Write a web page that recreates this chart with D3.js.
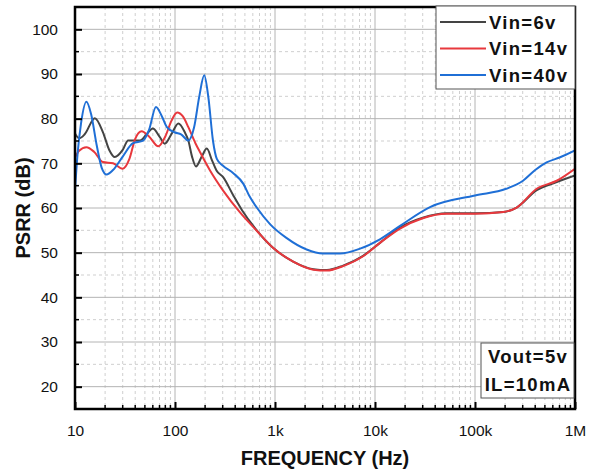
<!DOCTYPE html>
<html lang="en">
<head>
<meta charset="UTF-8">
<title>PSRR</title>
<style>
  body { margin: 0; background: #fff; }
  svg text { font-family: "Liberation Sans", Arial, sans-serif; fill: #111; }
  .tick-label { font-size: 15.5px; }
  .title { font-size: 20px; font-weight: bold; }
  .box-text { font-size: 18.5px; font-weight: bold; letter-spacing: 1.3px; }
</style>
</head>
<body>
<svg id="chart"></svg>
<script src="https://d3js.org/d3.v7.min.js"></script>
<script>
// ---- data ----
var yTicks = [20, 30, 40, 50, 60, 70, 80, 90, 100];
var xTicks = [10, 100, 1000, 10000, 100000, 1000000];
var xTickLabels = ["10", "100", "1k", "10k", "100k", "1M"];

var freq6 = [10, 11, 12.5, 15.8, 19, 22, 25, 30, 34, 44.7, 52, 60, 70, 79, 92, 108, 125, 136, 148, 162, 185, 208, 235, 260, 303, 383, 468, 657, 955, 1520, 2420, 3300, 4800, 7600, 11200, 17800, 30000, 52000, 100000, 192000, 261000, 414000, 656000, 1000000];
var psrr6 = [76.7, 75.6, 76.5, 80.1, 77, 73, 71.4, 73, 75.1, 75.1, 76.5, 77.8, 76, 74.4, 76.5, 78.9, 77, 75.1, 71.5, 69.3, 71.5, 73.3, 70.6, 68.4, 66.9, 62.8, 59.5, 55, 51.1, 48, 46.3, 46.1, 47.1, 49.3, 52.2, 55.6, 57.8, 58.8, 58.8, 59.1, 60.1, 64, 65.8, 67.3];

var freq14 = [10, 11, 13, 15.5, 19, 24, 30, 35, 40, 46.4, 55, 68, 80, 92, 105, 120, 136, 160, 178, 224, 303, 447, 657, 955, 1520, 2420, 3300, 4800, 7600, 11200, 17800, 30000, 52000, 100000, 192000, 261000, 414000, 656000, 1000000];
var psrr14 = [71.3, 72.8, 73.6, 72.6, 70.3, 70, 68.8, 71, 75.5, 77.2, 76, 73.8, 76, 79.5, 81.4, 80.5, 78.1, 74.5, 72.5, 68.4, 63.9, 59, 54.9, 51.1, 48, 46.2, 46, 47, 49.2, 52.2, 55.4, 57.7, 58.7, 58.7, 59.1, 60.1, 64.3, 66.1, 68.8];

var freq40 = [10, 10.6, 11.5, 13, 14.5, 16.5, 18.5, 20.7, 24, 30, 38, 48, 55, 64.5, 74, 83, 100, 115, 136, 155, 175, 196, 215, 240, 262, 300, 383, 483, 560, 657, 891, 1300, 2070, 3000, 4470, 7100, 11200, 17800, 35500, 100000, 205000, 302000, 400000, 520000, 700000, 1000000];
var psrr40 = [64, 72, 79, 83.8, 81, 74, 69, 67.5, 68.5, 71.5, 74.5, 75.1, 77.5, 82.6, 80.5, 78.1, 76.9, 76.5, 75.1, 78, 85, 89.7, 85, 75, 71, 69.5, 67.8, 65.4, 62.5, 60.1, 56.4, 53.3, 50.7, 49.8, 49.8, 50.9, 53, 56, 60.2, 62.8, 64.3, 66.1, 68.5, 70.2, 71.3, 72.9];

var seriesNames = ["Vin=6v", "Vin=14v", "Vin=40v"];
var seriesColors = ["#444444", "#e8383d", "#1f6fd6"];
var noteLines = ["Vout=5v", "IL=10mA"];

// ---- layout ----
var svgWidth = 590, svgHeight = 471;
var margin = { top: 7, right: 15, bottom: 62, left: 75 };
var width = svgWidth - margin.left - margin.right;
var height = svgHeight - margin.top - margin.bottom;

var svg = d3.select("#chart").attr("width", svgWidth).attr("height", svgHeight);
var g = svg.append("g").attr("transform", "translate(" + margin.left + "," + margin.top + ")");

var x = d3.scaleLog().domain([10, 1000000]).range([0, width]);
var y = d3.scaleLinear().domain([15, 105]).range([height, 0]);

// minor positions
var xMinor = [];
for (var d = 10; d < 1000000; d *= 10) {
  for (var k = 2; k <= 9; k++) xMinor.push(d * k);
}
var yMinor = [25, 35, 45, 55, 65, 75, 85, 95];

// grid
g.append("g").selectAll("line").data(xMinor).enter().append("line")
  .attr("x1", function(d) { return x(d); }).attr("x2", function(d) { return x(d); })
  .attr("y1", 0).attr("y2", height)
  .attr("stroke", "#cfcfcf").attr("stroke-dasharray", "3,3");
g.append("g").selectAll("line").data(yMinor).enter().append("line")
  .attr("x1", 0).attr("x2", width)
  .attr("y1", function(d) { return y(d); }).attr("y2", function(d) { return y(d); })
  .attr("stroke", "#cfcfcf").attr("stroke-dasharray", "3,3");
g.append("g").selectAll("line").data(xTicks).enter().append("line")
  .attr("x1", function(d) { return x(d); }).attr("x2", function(d) { return x(d); })
  .attr("y1", 0).attr("y2", height)
  .attr("stroke", "#b4b4b4");
g.append("g").selectAll("line").data(yTicks).enter().append("line")
  .attr("x1", 0).attr("x2", width)
  .attr("y1", function(d) { return y(d); }).attr("y2", function(d) { return y(d); })
  .attr("stroke", "#b4b4b4");

// curves
var line = d3.line()
  .x(function(d) { return x(d[0]); })
  .y(function(d) { return y(d[1]); })
  .curve(d3.curveMonotoneX);

var series = [d3.zip(freq6, psrr6), d3.zip(freq14, psrr14), d3.zip(freq40, psrr40)];
g.append("g").attr("clip-path", "url(#clip)").selectAll("path").data(series).enter().append("path")
  .attr("fill", "none")
  .attr("stroke", function(d, i) { return seriesColors[i]; })
  .attr("stroke-width", 2)
  .attr("stroke-linejoin", "round")
  .attr("d", line);
svg.append("clipPath").attr("id", "clip").append("rect")
  .attr("x", 0).attr("y", 0).attr("width", width).attr("height", height);

// axes
var xAxis = d3.axisBottom(x).tickValues(xTicks).tickFormat(function(d, i) { return xTickLabels[i]; })
  .tickSizeInner(-7).tickSizeOuter(0).tickPadding(16);
var gx = g.append("g").attr("transform", "translate(0," + height + ")").call(xAxis);
gx.selectAll(".tick text").attr("class", "tick-label").attr("fill", "#111");
gx.append("g").selectAll("line").data(xMinor).enter().append("line")
  .attr("x1", function(d) { return x(d); }).attr("x2", function(d) { return x(d); })
  .attr("y1", 0).attr("y2", -4).attr("stroke", "#000").attr("stroke-width", 1.5);

var yAxis = d3.axisLeft(y).tickValues(yTicks).tickSizeInner(-7).tickSizeOuter(0).tickPadding(17);
var gy = g.append("g").call(yAxis);
gy.selectAll(".tick text").attr("class", "tick-label").attr("fill", "#111");
gy.append("g").selectAll("line").data(yMinor).enter().append("line")
  .attr("x1", 0).attr("x2", 4)
  .attr("y1", function(d) { return y(d); }).attr("y2", function(d) { return y(d); })
  .attr("stroke", "#000").attr("stroke-width", 1.5);
g.selectAll(".tick line").attr("stroke", "#000").attr("stroke-width", 2);
g.selectAll(".domain").remove();

// frame
g.append("rect").attr("x", 0).attr("y", 0).attr("width", width).attr("height", height)
  .attr("fill", "none").attr("stroke", "#000").attr("stroke-width", 2.5);

// titles
g.append("text").attr("class", "title")
  .attr("x", width / 2).attr("y", height + 56)
  .attr("text-anchor", "middle").text("FREQUENCY (Hz)");
g.append("text").attr("class", "title")
  .attr("transform", "translate(" + (-45) + "," + (height / 2) + ") rotate(-90)")
  .attr("text-anchor", "middle").text("PSRR (dB)");

// legend
var legend = svg.append("g").attr("transform", "translate(436,6)");
legend.append("rect").attr("width", 139).attr("height", 83)
  .attr("fill", "#fff").attr("stroke", "#555").attr("stroke-width", 1);
seriesNames.forEach(function(name, i) {
  var rowY = 16 + i * 26.5;
  legend.append("line").attr("x1", 4).attr("x2", 50).attr("y1", rowY).attr("y2", rowY)
    .attr("stroke", seriesColors[i]).attr("stroke-width", 2);
  legend.append("text").attr("class", "box-text").attr("x", 53).attr("y", rowY + 6.5).text(name);
});

// note box
var note = svg.append("g").attr("transform", "translate(481,343)");
note.append("rect").attr("width", 93).attr("height", 55)
  .attr("fill", "#fff").attr("stroke", "#555").attr("stroke-width", 1);
noteLines.forEach(function(t, i) {
  note.append("text").attr("class", "box-text").attr("x", 47).attr("y", 20 + i * 27.5)
    .attr("text-anchor", "middle").text(t);
});
</script>
</body>
</html>
